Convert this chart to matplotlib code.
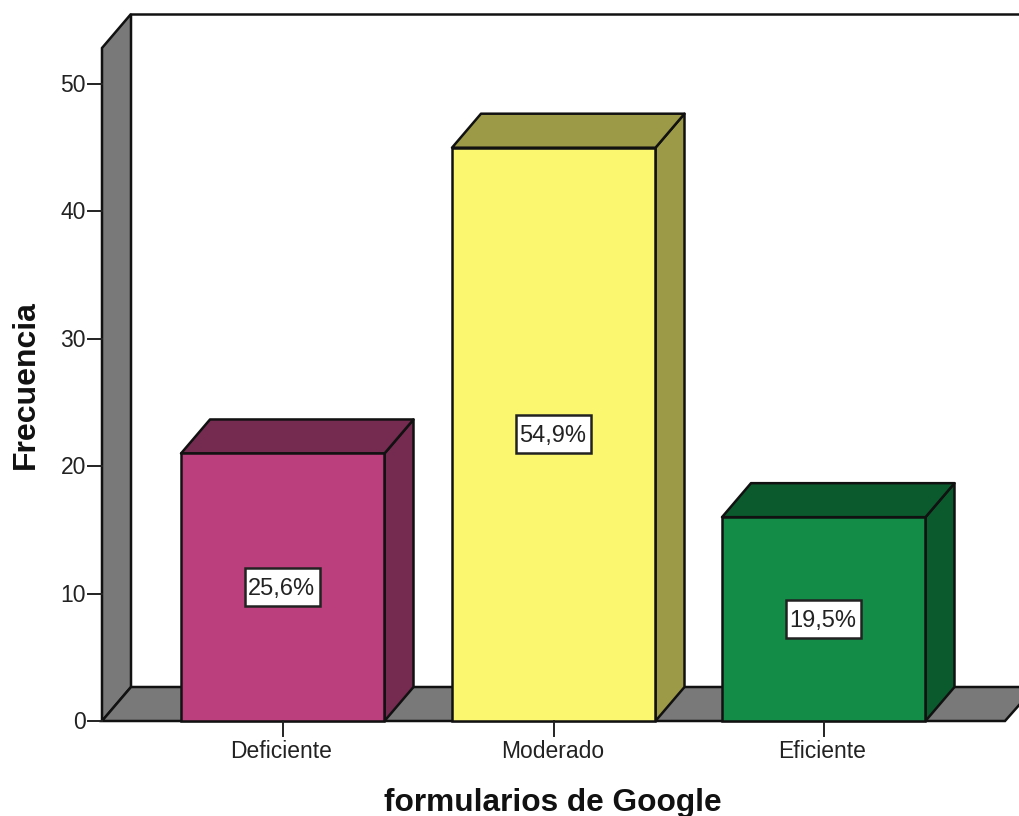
"""
Grafico de barras 3D (estilo SPSS): formularios de Google
"""

import matplotlib
matplotlib.use('Agg')
import matplotlib.pyplot as plt
from matplotlib.patches import Polygon, Rectangle

categorias = ['Deficiente', 'Moderado', 'Eficiente']
frecuencias = [21, 45, 16]
porcentajes = ['25,6%', '54,9%', '19,5%']
colores_frente = ['#BA3F7C', '#FBF76E', '#128C47']
colores_lado = ['#752A50', '#9C9A47', '#0A5A2D']
ticks_y = [0, 10, 20, 30, 40, 50]

plt.rcParams['font.family'] = ['Liberation Sans', 'DejaVu Sans']

fig = plt.figure(figsize=(10.2, 8.16), dpi=100)
# ejes en pixeles: x 102..1020, y 0 en fila 721, 50 en fila 84
alto = 816.0
y0, y50 = 721.0, 84.0
por_unidad = (y0 - y50) / 50
ax = fig.add_axes([0, 0, 1, 1])
ax.set_xlim(0, 1020)
ax.set_ylim((alto - y0) / -por_unidad, y0 / por_unidad)
ax.axis('off')

# profundidad 3D
dx = 29
dy = 34 / por_unidad
negro = '#111111'
gris = '#797979'
lw = 1.8

ymax = (y0 - 48) / por_unidad

# pared lateral gris
ax.add_patch(Polygon([(102, 0), (131, dy), (131, ymax + dy), (102, ymax)],
                     closed=True, facecolor=gris, edgecolor=negro, lw=lw))
# suelo gris
ax.add_patch(Polygon([(102, 0), (131, dy), (1035, dy), (1005, 0)],
                     closed=True, facecolor=gris, edgecolor=negro, lw=lw))
# linea superior de la pared de fondo
ax.plot([131, 1020], [ymax + dy, ymax + dy], color=negro, lw=lw)

# barras
izquierdas = [181, 452, 722]
ancho = 203.5
for i in range(len(categorias)):
    x = izquierdas[i]
    h = frecuencias[i]
    ax.add_patch(Polygon([(x + ancho, 0), (x + ancho + dx, dy), (x + ancho + dx, h + dy), (x + ancho, h)],
                         closed=True, facecolor=colores_lado[i], edgecolor=negro, lw=lw, joinstyle='round'))
    ax.add_patch(Polygon([(x, h), (x + dx, h + dy), (x + ancho + dx, h + dy), (x + ancho, h)],
                         closed=True, facecolor=colores_lado[i], edgecolor=negro, lw=lw, joinstyle='round'))
    ax.add_patch(Rectangle((x, 0), ancho, h, facecolor=colores_frente[i], edgecolor=negro, lw=lw))
    # etiqueta de porcentaje con su recuadro
    cx = x + ancho / 2
    ax.add_patch(Rectangle((cx - 37.5, h / 2 - 19 / por_unidad), 75, 38 / por_unidad,
                           facecolor='white', edgecolor='#222222', lw=1.8, zorder=3))
    ax.text(cx - 1, h / 2 - 1.5 / por_unidad, porcentajes[i], ha='center', va='center', fontsize=17,
            color='#222222', zorder=4)
    # marca y nombre de categoria
    ax.plot([cx, cx], [0, -15 / por_unidad], color='#222222', lw=1.4, clip_on=False)
    ax.text(cx - 1.5, -30 / por_unidad, categorias[i], ha='center', va='center', fontsize=16.5, color='#222222')

# eje y
for t in ticks_y:
    ax.plot([88, 102], [t, t], color='#222222', lw=1.4)
    ax.text(86, t - 1.5 / por_unidad, str(t), ha='right', va='center', fontsize=16.5, color='#222222')

ax.text(26, (y0 - 385) / por_unidad, 'Frecuencia', rotation=90, ha='center', va='center', fontsize=23,
        fontweight='bold', color='#111111')
ax.text(553, -81.5 / por_unidad, 'formularios de Google', ha='center', va='center', fontsize=22.8,
        fontweight='bold', color='#111111')

fig.savefig('out.png', dpi=100, facecolor='white')
